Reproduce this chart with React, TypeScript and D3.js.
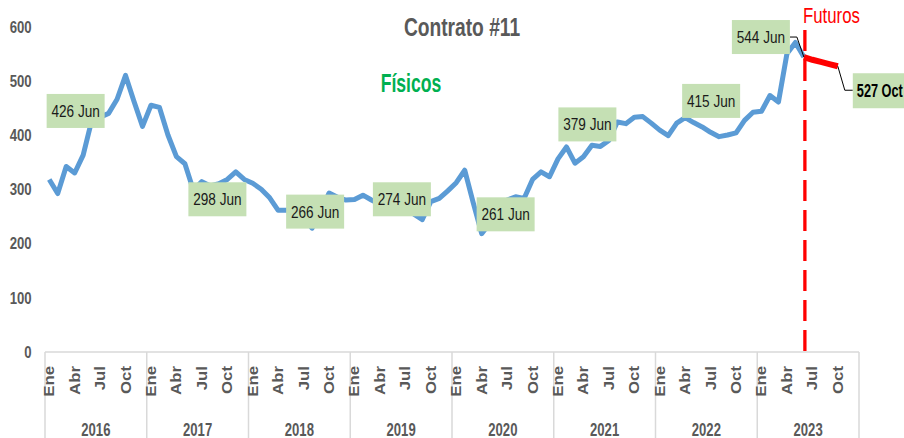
import React, { useEffect, useRef } from 'react';
import * as d3 from 'd3';

const years = ['2016', '2017', '2018', '2019', '2020', '2021', '2022', '2023'];
const monthNames = ['Ene', 'Feb', 'Mar', 'Abr', 'May', 'Jun', 'Jul', 'Ago', 'Sep', 'Oct', 'Nov', 'Dic'];
const shownMonths = ['Ene', 'Abr', 'Jul', 'Oct'];
const yTicks = [0, 100, 200, 300, 400, 500, 600];

// Físicos, Ene 2016 .. Jun 2023
const fisicos2016 = [318, 292, 342, 330, 363, 426, 433, 440, 466, 510, 462, 416];
const fisicos2017 = [455, 451, 400, 360, 347, 298, 314, 306, 310, 318, 332, 318];
const fisicos2018 = [311, 300, 284, 261, 261, 266, 248, 228, 258, 293, 285, 280];
const fisicos2019 = [281, 289, 280, 272, 268, 274, 262, 254, 244, 277, 283, 297];
const fisicos2020 = [312, 335, 275, 218, 238, 261, 280, 286, 283, 318, 332, 323];
const fisicos2021 = [356, 378, 348, 360, 381, 379, 390, 424, 421, 433, 434, 422];
const fisicos2022 = [409, 399, 422, 432, 423, 415, 405, 397, 400, 404, 427, 442];
const fisicos2023 = [444, 473, 461, 550, 571, 544];

const futurosMonths = ['2023-Jun', '2023-Jul', '2023-Ago', '2023-Sep', '2023-Oct'];
const futurosValues = [544, 539, 535, 531, 527];

const labelMonths = ['2016-Jun', '2017-Jun', '2018-Jun', '2019-Jun', '2020-Jun', '2021-Jun', '2022-Jun', '2023-Jun'];
const labelTexts = ['426 Jun', '298 Jun', '266 Jun', '274 Jun', '261 Jun', '379 Jun', '415 Jun', '544 Jun'];
const futuroLabel = '527 Oct';

// box offsets from the point (layout only)
const labelOffsets = [[-16, -10], [24, 9], [20, 4], [5, -4], [7, 4], [-13, -22], [9, -26], [-43, -20]];

const allMonths = years.flatMap((yr) => monthNames.map((m) => `${yr}-${m}`));
const fisicosValues = [
  ...fisicos2016, ...fisicos2017, ...fisicos2018, ...fisicos2019,
  ...fisicos2020, ...fisicos2021, ...fisicos2022, ...fisicos2023,
];

const FONT = '"Liberation Sans", Arial, sans-serif';
const GREY = '#595959';

const App = () => {
  const ref = useRef<SVGSVGElement>(null);

  useEffect(() => {
    const width = 904;
    const height = 438;
    const svg = d3.select(ref.current);
    svg.attr('width', width).attr('height', height);

    const x = d3.scaleBand<string>().domain(allMonths).range([45, 859]);
    const xc = (k: string) => (x(k) as number) + x.bandwidth() / 2;
    const y = d3.scaleLinear().domain([0, 600]).range([351.7, 26.7]);

    const txt = (
      px: number, py: number, s: string,
      opts: { size: number; weight?: string; fill?: string; anchor?: string; sx?: number; sy?: number; rot?: number }
    ) => {
      const { size, weight = 'normal', fill = GREY, anchor = 'middle', sx = 0.85, sy = 1.1, rot = 0 } = opts;
      return svg.append('text')
        .attr('transform', `translate(${px},${py}) rotate(${rot}) scale(${sx},${sy})`)
        .attr('font-family', FONT)
        .attr('font-size', size)
        .attr('font-weight', weight)
        .attr('fill', fill)
        .attr('text-anchor', anchor)
        .text(s);
    };

    // y tick labels
    yTicks.forEach((t) => {
      txt(31.7, y(t) + 6, String(t), { size: 15, weight: 'bold', anchor: 'end', sx: 0.88, sy: 1.12 });
    });

    // category axis
    svg.append('line')
      .attr('x1', 45).attr('x2', 859).attr('y1', 352).attr('y2', 352)
      .attr('stroke', '#D9D9D9').attr('stroke-width', 1.5);

    const yearEdges = years.map((yr) => x(`${yr}-Ene`) as number).concat([859]);
    yearEdges.forEach((ex) => {
      svg.append('line')
        .attr('x1', ex).attr('x2', ex).attr('y1', 352).attr('y2', height)
        .attr('stroke', '#D9D9D9').attr('stroke-width', 1.5);
    });

    allMonths.forEach((k) => {
      const m = k.split('-')[1];
      if (!shownMonths.includes(m)) return;
      txt(xc(k) + 5, 366, m, { size: 14, weight: 'bold', anchor: 'end', rot: -90, sx: 1.2, sy: 1 });
    });

    years.forEach((yr, i) => {
      const cx = (yearEdges[i] + yearEdges[i + 1]) / 2;
      txt(cx, 436, yr, { size: 16, weight: 'bold', sx: 0.82, sy: 1.15 });
    });

    // titles
    txt(462, 36, 'Contrato #11', { size: 24, weight: 'bold', sx: 0.8, sy: 1.05 });
    txt(411, 92, 'Físicos', { size: 22, weight: 'bold', fill: '#00B050', sx: 0.8, sy: 1.14 });

    // futures divider
    const divX = xc('2023-Jun') + 1;
    svg.append('line')
      .attr('x1', divX).attr('x2', divX).attr('y1', 30).attr('y2', 352)
      .attr('stroke', '#FF0000').attr('stroke-width', 3.3)
      .attr('stroke-dasharray', '21,9');
    txt(803, 22.7, 'Futuros', { size: 20, fill: '#FF0000', anchor: 'start', sx: 0.84, sy: 1.12 });

    // lines
    const line = d3.line<[string, number]>()
      .x((d) => xc(d[0]))
      .y((d) => y(d[1]));

    const fisicosPts = fisicosValues.map((v, i) => [allMonths[i], v] as [string, number]);
    svg.append('path')
      .attr('d', line(fisicosPts))
      .attr('fill', 'none')
      .attr('stroke', '#5B9BD5')
      .attr('stroke-width', 5)
      .attr('stroke-linejoin', 'round');

    const futPts = futurosValues.map((v, i) => [futurosMonths[i], v] as [string, number]);
    svg.append('path')
      .attr('d', line(futPts))
      .attr('fill', 'none')
      .attr('stroke', '#FF0000')
      .attr('stroke-width', 6);

    // leader lines
    const lastJun = labelMonths.length - 1;
    const pJun: [number, number] = [xc(labelMonths[lastJun]), y(fisicosValues[allMonths.indexOf(labelMonths[lastJun])])];
    const bJun: [number, number] = [pJun[0] + labelOffsets[lastJun][0], pJun[1] + labelOffsets[lastJun][1]];
    svg.append('path')
      .attr('d', `M${bJun[0] + 29},${bJun[1]} H${bJun[0] + 36} L${pJun[0]},${pJun[1]}`)
      .attr('fill', 'none').attr('stroke', '#000').attr('stroke-width', 1);

    const kOct = futurosMonths[futurosMonths.length - 1];
    const pOct: [number, number] = [xc(kOct), y(futurosValues[futurosValues.length - 1])];
    svg.append('path')
      .attr('d', `M${pOct[0]},${pOct[1]} L${pOct[0] + 7},${pOct[1] + 24} H${pOct[0] + 15}`)
      .attr('fill', 'none').attr('stroke', '#000').attr('stroke-width', 1);

    // data labels
    labelMonths.forEach((k, i) => {
      const v = fisicosValues[allMonths.indexOf(k)];
      const cx = xc(k) + labelOffsets[i][0];
      const cy = y(v) + labelOffsets[i][1];
      svg.append('rect')
        .attr('x', cx - 29).attr('y', cy - 17)
        .attr('width', 58).attr('height', 34)
        .attr('fill', '#C5E0B4');
      txt(cx, cy + 6, labelTexts[i], { size: 16, fill: '#1a1a1a', sx: 0.85, sy: 1.08 });
    });

    svg.append('rect')
      .attr('x', pOct[0] + 15).attr('y', pOct[1] + 7)
      .attr('width', 64).attr('height', 35)
      .attr('fill', '#C5E0B4');
    txt(pOct[0] + 19, pOct[1] + 31, futuroLabel, { size: 17, weight: 'bold', fill: '#000', anchor: 'start', sx: 0.75, sy: 1.12 });

    return () => {
      svg.selectAll('*').remove();
    };
  }, []);

  return (
    <svg
      ref={ref}
      style={{ position: 'absolute', left: 0, top: 0, background: '#fff', display: 'block' }}
    ></svg>
  );
};

export default App;
